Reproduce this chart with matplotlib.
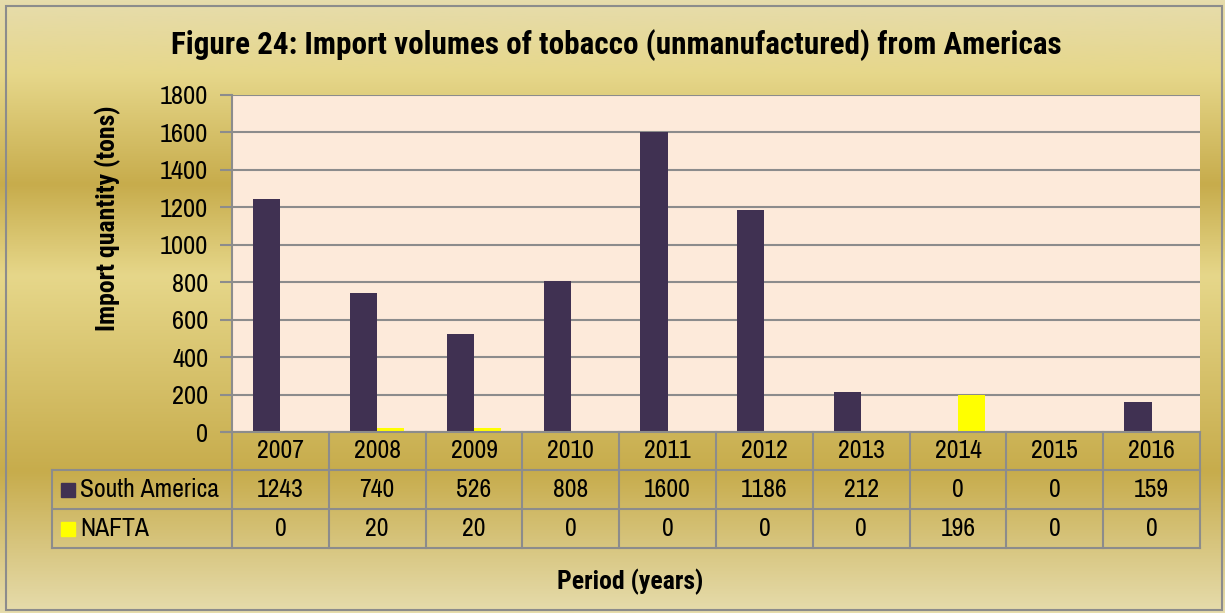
import matplotlib
matplotlib.use('Agg')
import matplotlib.pyplot as plt
from matplotlib.colors import LinearSegmentedColormap
from matplotlib.lines import Line2D
from matplotlib.patches import Rectangle
import matplotlib.transforms as mtransforms
import numpy as np

years = ['2007', '2008', '2009', '2010', '2011', '2012', '2013', '2014', '2015', '2016']
south_america = [1243, 740, 526, 808, 1600, 1186, 212, 0, 0, 159]
nafta = [0, 20, 20, 0, 0, 0, 0, 196, 0, 0]
series_names = ['South America', 'NAFTA']
series_colors = ['#403152', '#FFFF00']
yticks = [0, 200, 400, 600, 800, 1000, 1200, 1400, 1600, 1800]

plt.rcParams['font.family'] = ['Archivo Narrow', 'Liberation Sans', 'DejaVu Sans']
bold_font = ['Roboto Condensed', 'Liberation Sans', 'DejaVu Sans']

W, H = 1225, 613
fig = plt.figure(figsize=(W / 100, H / 100), dpi=100)

# gold gradient background
bg = fig.add_axes([0, 0, 1, 1])
gold = LinearSegmentedColormap.from_list('gold', [
    (0.0, '#E6DCAC'), (0.12, '#E6D78A'), (0.30, '#C7AC4C'),
    (0.45, '#E6D78A'), (0.77, '#C7AC4C'), (1.0, '#E6DCAC')])
bg.imshow(np.linspace(0, 1, 256).reshape(-1, 1), aspect='auto', cmap=gold,
          extent=[0, 1, 0, 1])
bg.add_patch(Rectangle((6 / W, 3 / H), 1216 / W, 604 / H, fill=False,
                       edgecolor='#8c8c8c', lw=1.5))
bg.set_xlim(0, 1)
bg.set_ylim(0, 1)
bg.axis('off')

def fy(py):
    return 1 - py / H

def fx(px):
    return px / W

ax_left, ax_right, ax_top, ax_bot = 232, 1200, 95, 432
ax = fig.add_axes([fx(ax_left), fy(ax_bot), fx(ax_right) - fx(ax_left), fy(ax_top) - fy(ax_bot)])
ax.set_facecolor('#FDEADA')

x = np.arange(len(years))
w = 0.28
ax.bar(x - w / 2, south_america, w, color=series_colors[0])
ax.bar(x + w / 2, nafta, w, color=series_colors[1])

ax.set_xlim(-0.5, len(years) - 0.5)
ax.set_ylim(0, 1800)
ax.set_yticks(yticks)
ax.set_xticks([])
ax.yaxis.grid(True, color='#8c8c8c', lw=1.5)
ax.set_axisbelow(True)
for s in ['top', 'right', 'bottom']:
    ax.spines[s].set_visible(False)
ax.spines['left'].set_color('#8c8c8c')
ax.spines['left'].set_linewidth(1.5)
ax.tick_params(axis='y', colors='#8c8c8c', length=9, width=1.5, labelsize=19,
               labelcolor='black', pad=8)

# data table below the axes
tr = mtransforms.blended_transform_factory(ax.transData, fig.transFigure)
lc = '#8c8c8c'
rows_y = [432, 470, 509, 548]
fs = 18.5
fig.add_artist(Line2D([fx(223), fx(1200)], [fy(432)] * 2, color=lc, lw=1.5))
for py in rows_y[1:]:
    fig.add_artist(Line2D([fx(52), fx(1200)], [fy(py)] * 2, color=lc, lw=1.5))
fig.add_artist(Line2D([fx(52)] * 2, [fy(470), fy(548)], color=lc, lw=1.5))
for k in range(len(years) + 1):
    fig.add_artist(Line2D([k - 0.5] * 2, [fy(432), fy(548)], transform=tr,
                          color=lc, lw=1.5))

for i, yr in enumerate(years):
    fig.text(i, fy(451), yr, transform=tr, ha='center', va='center', fontsize=fs)
    fig.text(i, fy(489.5), str(south_america[i]), transform=tr, ha='center',
             va='center', fontsize=fs)
    fig.text(i, fy(528.5), str(nafta[i]), transform=tr, ha='center',
             va='center', fontsize=fs)

for name, col, cy in zip(series_names, series_colors, [489.5, 528.5]):
    fig.add_artist(Rectangle((fx(61), fy(cy + 7)), 14 / W, 14 / H,
                             transform=fig.transFigure, color=col))
    fig.text(fx(80), fy(cy), name, ha='left', va='center', fontsize=fs)

fig.text(fx(616), fy(45), 'Figure 24: Import volumes of tobacco (unmanufactured) from Americas',
         ha='center', va='center', fontsize=22.4, fontweight='bold', family=bold_font)
fig.text(fx(108), fy(218), 'Import quantity (tons)', rotation=90, ha='center',
         va='center', fontsize=18.5, fontweight='bold', family=bold_font)
fig.text(fx(630), fy(582), 'Period (years)', ha='center', va='center',
         fontsize=18.5, fontweight='bold', family=bold_font)

fig.savefig('out.png', dpi=100)
